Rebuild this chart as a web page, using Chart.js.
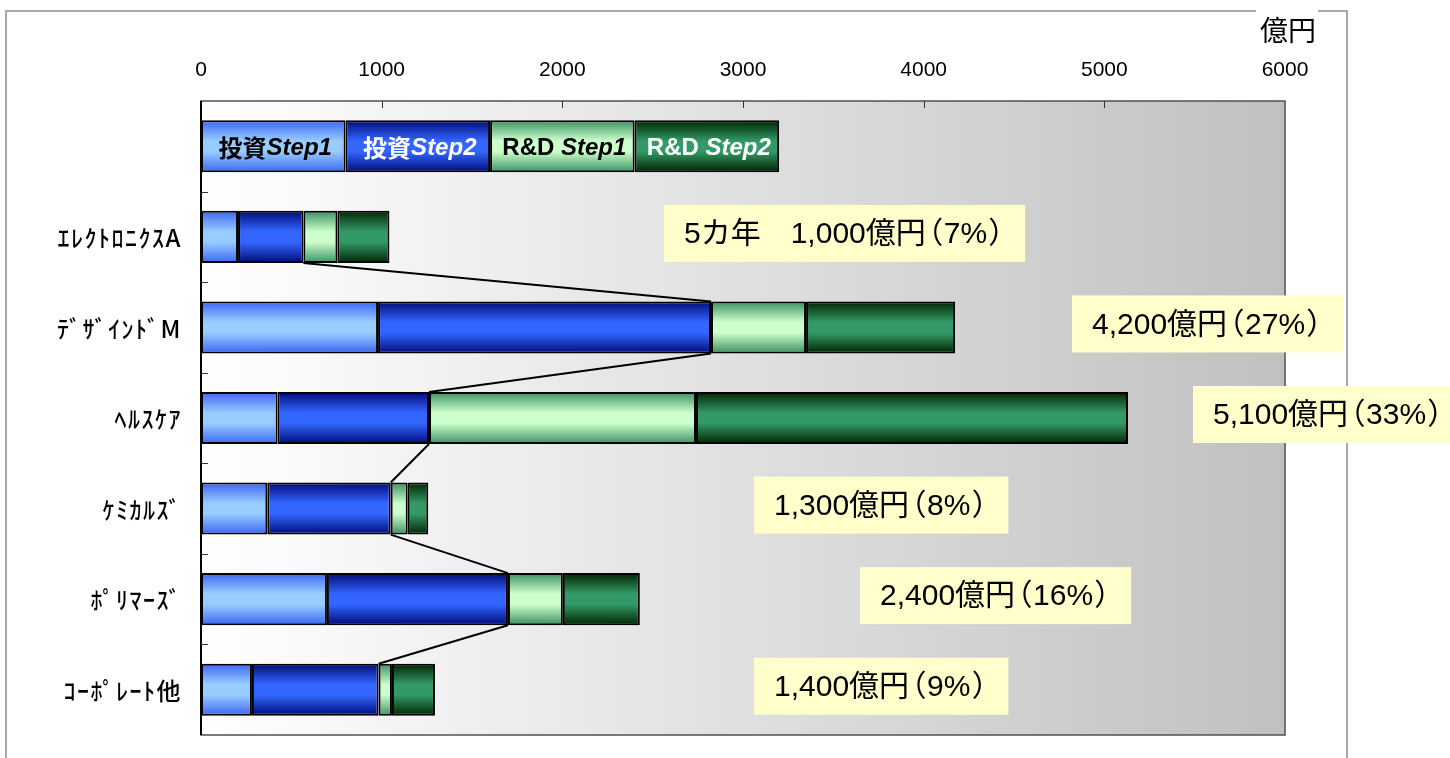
<!DOCTYPE html>
<html>
<head>
<meta charset="utf-8">
<script src="https://cdn.jsdelivr.net/npm/chart.js@4"></script>
<style>
  body { margin: 0; background: #fff; }
  canvas { display: block; }
</style>
</head>
<body>
<canvas id="c" width="1450" height="758"></canvas>
<script>
// data (億円)
const categories = ['', 'ｴﾚｸﾄﾛﾆｸｽA', 'ﾃﾞｻﾞｲﾝﾄﾞM', 'ﾍﾙｽｹｱ', 'ｹﾐｶﾙｽﾞ', 'ﾎﾟﾘﾏｰｽﾞ', 'ｺｰﾎﾟﾚｰﾄ他'];
const seriesNames = ['投資Step1', '投資Step2', 'R&D Step1', 'R&D Step2'];
const invest1 = [800, 205, 980, 424, 367, 697, 282];
const invest2 = [800, 362, 1843, 838, 683, 1002, 701];
const rd1 = [800, 188, 526, 1478, 94, 304, 74];
const rd2 = [800, 288, 825, 2391, 114, 426, 238];
const xTicks = [0, 1000, 2000, 3000, 4000, 5000, 6000];
const totals = ['5カ年　1,000億円（7%）', '4,200億円（27%）', '5,100億円（33%）', '1,300億円（8%）', '2,400億円（16%）', '1,400億円（9%）'];

const BAR_PCT = 0.575;
const boxLeft = [664, 1072, 1193, 754, 860, 754];

// vertical gradient per bar, dark at the edges
function barFill(edge, mid) {
    return function (c) {
        const y = c.chart.scales.y;
        if (!y || c.dataIndex === undefined) return mid;
        const yc = y.getPixelForValue(c.dataIndex);
        const h = (y.getPixelForValue(1) - y.getPixelForValue(0)) * BAR_PCT;
        if (!isFinite(yc) || !isFinite(h) || h <= 0) return mid;
        const g = c.chart.ctx.createLinearGradient(0, yc - h / 2, 0, yc + h / 2);
        g.addColorStop(0, edge);
        g.addColorStop(0.4, mid);
        g.addColorStop(0.6, mid);
        g.addColorStop(1, edge);
        return g;
    };
}

const JP = '"Noto Sans CJK JP"';
const LAT = '"Liberation Sans", "Noto Sans CJK JP"';

function drawParts(ctx, parts, cx, cy, color) {
    let w = 0;
    parts.forEach(p => { ctx.font = p.font; w += ctx.measureText(p.text).width; });
    let x = cx - w / 2;
    ctx.fillStyle = color;
    ctx.textBaseline = 'middle';
    ctx.textAlign = 'left';
    parts.forEach(p => {
        ctx.font = p.font;
        ctx.fillText(p.text, x, cy);
        x += ctx.measureText(p.text).width;
    });
}

// full-width brackets drawn proportionally (as in the original font)
function drawTight(ctx, text, x, y, size, measureOnly) {
    const runs = text.split(/([（）])/).filter(s => s);
    let cx = x;
    runs.forEach(r => {
        if (r === '（') {
            if (!measureOnly) ctx.fillText(r, cx - size * 0.42, y);
            cx += size * 0.6;
        } else if (r === '）') {
            if (!measureOnly) ctx.fillText(r, cx + size * 0.04, y);
            cx += size * 0.6;
        } else {
            if (!measureOnly) ctx.fillText(r, cx, y);
            cx += ctx.measureText(r).width;
        }
    });
    return cx - x;
}

const decorations = {
    id: 'decorations',
    beforeDraw(chart) {
        const ctx = chart.ctx;
        const a = chart.chartArea;
        ctx.save();
        ctx.fillStyle = '#fff';
        ctx.fillRect(0, 0, chart.width, chart.height);
        // outer frame
        ctx.strokeStyle = '#8c8c8c';
        ctx.lineWidth = 1.5;
        ctx.beginPath();
        ctx.moveTo(6, 770);
        ctx.lineTo(6, 11);
        ctx.lineTo(1347, 11);
        ctx.lineTo(1347, 770);
        ctx.stroke();
        // unit label over the frame line
        ctx.font = '28px ' + JP;
        ctx.textBaseline = 'middle';
        ctx.textAlign = 'right';
        const uw = ctx.measureText('億円').width;
        ctx.fillStyle = '#fff';
        ctx.fillRect(1316 - uw - 4, 5, uw + 6, 14);
        ctx.fillStyle = '#000';
        ctx.fillText('億円', 1316, 30);
        // plot background
        const g = ctx.createLinearGradient(a.left, 0, a.right, 0);
        g.addColorStop(0, '#ffffff');
        g.addColorStop(1, '#c0c0c0');
        ctx.fillStyle = g;
        ctx.fillRect(a.left, a.top, a.right - a.left, a.bottom - a.top);
        ctx.restore();
    },
    beforeDatasetsDraw(chart) {
        // series lines joining the end of 投資Step2 between neighbouring bars
        const ctx = chart.ctx;
        const meta = chart.getDatasetMeta(1);
        ctx.save();
        ctx.strokeStyle = '#000';
        ctx.lineWidth = 2;
        for (let i = 1; i < categories.length - 1; i++) {
            const b1 = meta.data[i], b2 = meta.data[i + 1];
            ctx.beginPath();
            ctx.moveTo(b1.x, b1.y + b1.height / 2);
            ctx.lineTo(b2.x, b2.y - b2.height / 2);
            ctx.stroke();
        }
        ctx.restore();
    },
    afterDraw(chart) {
        const ctx = chart.ctx;
        const a = chart.chartArea;
        const xs = chart.scales.x, ys = chart.scales.y;
        ctx.save();
        // plot border
        ctx.strokeStyle = '#505050';
        ctx.lineWidth = 1.5;
        ctx.strokeRect(a.left, a.top, a.right - a.left, a.bottom - a.top);
        ctx.strokeStyle = '#000';
        ctx.lineWidth = 2;
        ctx.beginPath();
        ctx.moveTo(a.left, a.top);
        ctx.lineTo(a.left, a.bottom);
        ctx.stroke();
        // inner tick marks
        ctx.strokeStyle = '#333';
        ctx.lineWidth = 1;
        ctx.beginPath();
        xTicks.slice(1, -1).forEach(v => {
            const x = Math.round(xs.getPixelForValue(v)) + 0.5;
            ctx.moveTo(x, a.top);
            ctx.lineTo(x, a.top + 7);
        });
        for (let i = 0; i < categories.length - 1; i++) {
            const y = Math.round((ys.getPixelForValue(i) + ys.getPixelForValue(i + 1)) / 2) + 0.5;
            ctx.moveTo(a.left, y);
            ctx.lineTo(a.left + 7, y);
        }
        ctx.stroke();

        // category labels
        ctx.fillStyle = '#000';
        ctx.font = '500 24px ' + JP;
        ctx.textAlign = 'right';
        ctx.textBaseline = 'middle';
        ctx.letterSpacing = '1.5px';
        categories.forEach((c, i) => {
            if (c) ctx.fillText(c, a.left - 19, ys.getPixelForValue(i) + 1);
        });
        ctx.letterSpacing = '0px';

        // names inside the first (legend) bar
        const y0 = ys.getPixelForValue(0);
        const bold = '700 24px ' + LAT;
        const boldJp = '700 24px ' + JP;
        const it = 'italic 700 24px ' + LAT;
        const colors = ['#000', '#fff', '#000', '#fff'];
        let start = 0;
        const rows = [invest1, invest2, rd1, rd2];
        seriesNames.forEach((name, k) => {
            const v = rows[k][0];
            const cx = xs.getPixelForValue(start + v / 2);
            start += v;
            const m = name.match(/^(.*?)(Step\d)$/);
            const head = m[1];
            const parts = [{ text: head, font: /[^\x00-\x7f]/.test(head) ? boldJp : bold }, { text: m[2], font: it }];
            drawParts(ctx, parts, cx + 2, y0 + 2, colors[k]);
        });

        // total boxes
        const fs = 30;
        ctx.font = fs + 'px ' + LAT;
        ctx.textAlign = 'left';
        ctx.textBaseline = 'middle';
        totals.forEach((t, k) => {
            const yc = ys.getPixelForValue(k + 1) - 4;
            const w = drawTight(ctx, t, 0, 0, fs, true) + 40;
            ctx.fillStyle = '#ffffcc';
            ctx.fillRect(boxLeft[k], yc - 28, w, 57);
            ctx.fillStyle = '#000';
            drawTight(ctx, t, boxLeft[k] + 20, yc + 2, fs, false);
        });
        ctx.restore();
    }
};

new Chart(document.getElementById('c'), {
    type: 'bar',
    data: {
        labels: categories,
        datasets: [
            { label: seriesNames[0], data: invest1, backgroundColor: barFill('#3a66f5', '#99ccff') },
            { label: seriesNames[1], data: invest2, backgroundColor: barFill('#000a78', '#3366ff') },
            { label: seriesNames[2], data: rd1, backgroundColor: barFill('#3a9062', '#ccffcc') },
            { label: seriesNames[3], data: rd2, backgroundColor: barFill('#002400', '#339966') }
        ].map(d => Object.assign(d, {
            borderColor: '#000',
            borderWidth: 2,
            borderSkipped: false,
            categoryPercentage: 1,
            barPercentage: BAR_PCT
        }))
    },
    options: {
        indexAxis: 'y',
        responsive: false,
        devicePixelRatio: 1,
        animation: false,
        layout: { padding: { left: 0, right: 165, top: 0, bottom: 23 } },
        plugins: {
            legend: { display: false },
            tooltip: { enabled: false }
        },
        scales: {
            x: {
                position: 'top',
                stacked: true,
                min: 0,
                max: 6000,
                afterBuildTicks: s => { s.ticks = xTicks.map(v => ({ value: v })); },
                afterFit: s => { s.height = 101; },
                ticks: {
                    color: '#000',
                    font: { family: 'Liberation Sans', size: 21 },
                    padding: 18,
                    maxRotation: 0,
                    autoSkip: false,
                    callback: v => String(v)
                },
                grid: { display: false, drawTicks: false },
                border: { display: false }
            },
            y: {
                stacked: true,
                afterFit: s => { s.width = 201; },
                ticks: { display: false },
                grid: { display: false, drawTicks: false },
                border: { display: false }
            }
        }
    },
    plugins: [decorations]
});
</script>
</body>
</html>
